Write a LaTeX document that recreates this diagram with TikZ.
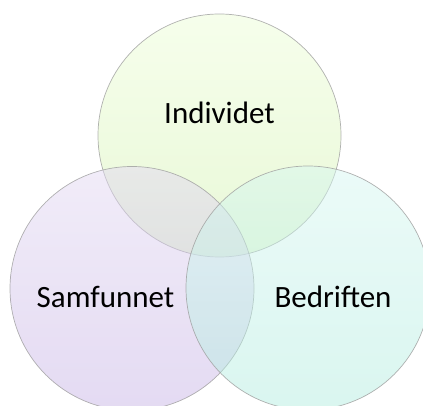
\documentclass[tikz,border=0pt]{standalone}
\usepackage{fontspec}
\setmainfont{Carlito}
\usetikzlibrary{positioning}

\definecolor{gronntop}{RGB}{236,253,214}
\definecolor{gronnbunn}{RGB}{208,240,172}
\definecolor{lillatop}{RGB}{226,216,242}
\definecolor{lillabunn}{RGB}{198,178,228}
\definecolor{turkistop}{RGB}{214,246,241}
\definecolor{turkisbunn}{RGB}{176,236,222}

\tikzset{
  krets/.style={draw=black!38,draw opacity=0.8,line width=0.7pt,fill opacity=0.48},
  etikett/.style={font=\fontsize{31}{36}\selectfont,text=black}
}

\begin{document}
\begin{tikzpicture}[x=1pt,y=-1pt]
    \useasboundingbox (0,0) rectangle (423,406);
    \clip (0,0) rectangle (423,406);

    % Tre sirkler
    \shade[krets,top color=gronntop,bottom color=gronnbunn] (219.5,135.5) circle (121.5);
    \shade[krets,top color=lillatop,bottom color=lillabunn] (132,288.5) circle (122);
    \shade[krets,top color=turkistop,bottom color=turkisbunn] (308,288) circle (122);

    % Tekster
    \node[etikett] (individet) at (219.5,113) {Individet};
    \node[etikett] (samfunnet) at (105.5,297) {Samfunnet};
    \node[etikett] (bedriften) at (333,297) {Bedriften};
\end{tikzpicture}
\end{document}
